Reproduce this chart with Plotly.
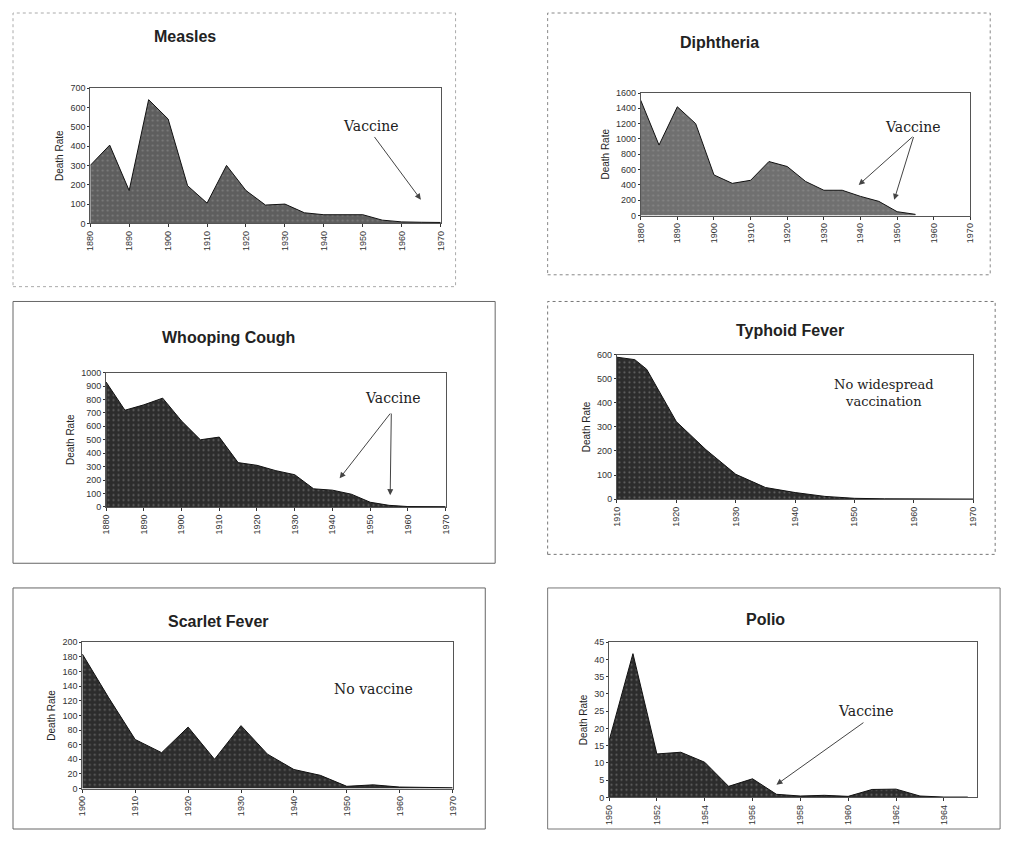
import plotly.graph_objects as go

# page is 1027x847; the browser adds an 8px body margin, so the figure is sized to fit inside it
W, H = 1008, 827
OFF = 8

# ---------------- data ----------------
measles_years = list(range(1880, 1971, 5))
measles_rate = [300, 405, 170, 640, 540, 195, 105, 300, 170, 95, 100, 55, 45, 45, 45, 17, 8, 6, 5]

diph_years = list(range(1880, 1956, 5))
diph_rate = [1506, 920, 1420, 1200, 530, 420, 460, 705, 640, 445, 330, 330, 250, 185, 50, 15]

whoop_years = list(range(1880, 1971, 5))
whoop_rate = [930, 720, 760, 810, 640, 500, 520, 330, 310, 270, 240, 135, 125, 95, 35, 12, 3, 2, 2]

typhoid_years = [1910, 1913, 1915, 1920, 1925, 1930, 1935, 1940, 1945, 1950, 1955, 1960, 1965, 1970]
typhoid_rate = [590, 580, 540, 322, 205, 103, 48, 27, 11, 3, 1, 0, 0, 0]

scarlet_years = list(range(1900, 1971, 5))
scarlet_rate = [184, 124, 67, 49, 84, 40, 86, 47, 26, 18, 3, 5, 2, 1, 1]

polio_years = list(range(1950, 1966))
polio_rate = [16.4, 41.7, 12.6, 13.1, 10.2, 3.2, 5.4, 0.9, 0.4, 0.6, 0.3, 2.3, 2.4, 0.4, 0.1, 0.1]

titles = ["Measles", "Diphtheria", "Whooping Cough", "Typhoid Fever", "Scarlet Fever", "Polio"]

# ---------------- layout helpers ----------------
def px_x(p):
    return (p - OFF) / W

def px_y(p):
    return 1 - (p - OFF) / H

panels = [
    # (years, rates, plot box px (x0,x1,y0,y1), xrange, xticks, yrange, ydtick, fill)
    (measles_years, measles_rate, (86, 440, 84, 221), [1880, 1970], list(range(1880, 1971, 10)), [0, 700], 100, "#5e5e5e"),
    (diph_years, diph_rate, (642, 975, 89, 213), [1880, 1970], list(range(1880, 1971, 10)), [0, 1600], 200, "#707070"),
    (whoop_years, whoop_rate, (102, 445, 372, 508), [1880, 1970], list(range(1880, 1971, 10)), [0, 1000], 100, "#2c2c2c"),
    (typhoid_years, typhoid_rate, (618, 978, 354, 500), [1910, 1970], list(range(1910, 1971, 10)), [0, 600], 100, "#2c2c2c"),
    (scarlet_years, scarlet_rate, (78, 452, 645, 793), [1900, 1970], list(range(1900, 1971, 10)), [0, 200], 20, "#2c2c2c"),
    (polio_years, polio_rate, (610, 982, 645, 802), [1950, 1965.4], list(range(1950, 1965, 2)), [0, 45], 5, "#2c2c2c"),
]

fig = go.Figure()
layout = dict(
    width=W, height=H, autosize=False,
    margin=dict(l=0, r=0, t=0, b=0),
    paper_bgcolor="white", plot_bgcolor="white",
    showlegend=False,
    font=dict(family="Liberation Sans", color="#222"),
)

for i, (yrs, vals, box, xr, xt, yr, ydt, fill) in enumerate(panels):
    n = "" if i == 0 else str(i + 1)
    xa, ya = "xaxis" + n, "yaxis" + n
    x0, x1, y0, y1 = box
    fig.add_trace(go.Scatter(
        x=yrs, y=vals, mode="lines", fill="tozeroy",
        fillcolor=fill, line=dict(color="#111", width=1),
        fillpattern=dict(shape=".", fgcolor="#9a9a9a", bgcolor=fill, size=5, solidity=0.15),
        xaxis="x" + n, yaxis="y" + n, hoverinfo="skip",
    ))
    layout[xa] = dict(
        domain=[px_x(x0), px_x(x1)], anchor="y" + n, range=xr,
        tickvals=xt, ticktext=[str(t) for t in xt], tickangle=-90,
        tickfont=dict(size=9, color="#333"), ticks="outside", ticklen=3, tickcolor="#333",
        showgrid=False, zeroline=False, showline=True, linecolor="#555", linewidth=1, mirror=True,
    )
    layout[ya] = dict(
        domain=[px_y(y1), px_y(y0)], anchor="x" + n, range=yr, dtick=ydt,
        tickfont=dict(size=9, color="#333"), ticks="outside", ticklen=2, tickcolor="#333",
        showgrid=False, zeroline=False, showline=True, linecolor="#555", linewidth=1, mirror=True,
        title=dict(text="Death Rate", font=dict(size=10, color="#222"), standoff=4),
    )

annotations = []
title_pos = [(182, 32), (722, 38), (226, 336), (793, 329), (216, 624), (768, 622)]
for t, (tx, ty) in zip(titles, title_pos):
    annotations.append(dict(text="<b>%s</b>" % t, x=px_x(tx), y=px_y(ty), xref="paper", yref="paper",
                            showarrow=False, font=dict(size=16, family="Liberation Sans", color="#222"),
                            xanchor="center", yanchor="middle"))

serif = dict(size=14, family="DejaVu Serif", color="#222")

def note(text, px, py, size=14):
    f = dict(serif)
    f["size"] = size
    annotations.append(dict(text=text, x=px_x(px), y=px_y(py), xref="paper", yref="paper",
                            showarrow=False, font=f, xanchor="center", yanchor="middle"))

def arrow(n, tail, head):
    annotations.append(dict(x=head[0], y=head[1], ax=tail[0], ay=tail[1],
                            xref="x" + n, yref="y" + n, axref="x" + n, ayref="y" + n,
                            text="", showarrow=True, arrowhead=2, arrowsize=1.2,
                            arrowwidth=1, arrowcolor="#444"))

# Measles
note("Vaccine", 370, 122)
arrow("", (1952.7, 455), (1964.9, 123))
# Diphtheria
note("Vaccine", 917, 123)
arrow("2", (1954.6, 1045), (1939.5, 400))
arrow("2", (1954.6, 1045), (1949.2, 206))
# Whooping cough
note("Vaccine", 392, 398)
arrow("3", (1955.6, 706), (1941.9, 213))
arrow("3", (1955.6, 706), (1955.3, 88))
# Typhoid
note("No widespread<br>vaccination", 888, 393, 13)
# Scarlet
note("No vaccine", 372, 692)
# Polio
note("Vaccine", 870, 715)
arrow("6", (1960.7, 22), (1957.0, 3.7))

layout["annotations"] = annotations

# panel frames
shapes = []
def frame(x0, y0, x1, y1, dash="dot", color="#999", width=1):
    shapes.append(dict(type="rect", xref="paper", yref="paper",
                       x0=px_x(x0), x1=px_x(x1), y0=px_y(y1), y1=px_y(y0),
                       line=dict(color=color, width=width, dash=dash), fillcolor="rgba(0,0,0,0)"))

frame(8, 8, 455, 285, "dot", "#aaa")
frame(548, 8, 995, 273, "dot", "#888")
frame(8, 300, 495, 565, "solid", "#666")
frame(548, 300, 1000, 556, "dot", "#777")
frame(8, 590, 485, 834, "solid", "#666")
frame(548, 590, 1005, 834, "solid", "#777")
layout["shapes"] = shapes

fig.update_layout(**layout)
fig.write_html("out.html")
